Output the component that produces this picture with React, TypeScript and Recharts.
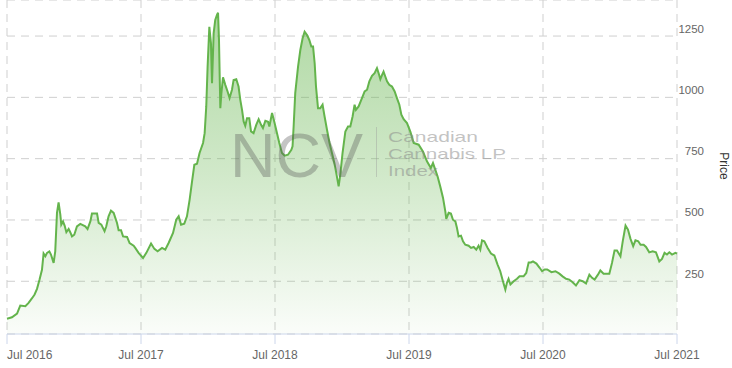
import { Area, AreaChart, CartesianGrid, XAxis, YAxis } from 'recharts';

// time in years since Jul 2016
const YEARS = [
  0, 0.037, 0.075, 0.099, 0.137, 0.161, 0.187, 0.206, 0.224, 0.243, 0.261, 0.273, 0.286, 0.299, 0.316,
  0.328, 0.348, 0.36, 0.373, 0.385, 0.398, 0.405, 0.418, 0.43, 0.443, 0.46, 0.472, 0.485, 0.502, 0.522,
  0.547, 0.584, 0.601, 0.622, 0.634, 0.672, 0.684, 0.704, 0.728, 0.741, 0.758, 0.776, 0.796, 0.821, 0.833,
  0.851, 0.866, 0.896, 0.915, 0.945, 0.957, 0.982, 1.015, 1.04, 1.075, 1.1, 1.124, 1.157, 1.181, 1.206,
  1.239, 1.263, 1.281, 1.299, 1.323, 1.343, 1.363, 1.381, 1.398, 1.418, 1.437, 1.463, 1.475, 1.487, 1.497,
  1.51, 1.522, 1.53, 1.542, 1.554, 1.567, 1.575, 1.582, 1.592, 1.6, 1.612, 1.629, 1.646, 1.661, 1.679,
  1.691, 1.711, 1.728, 1.741, 1.754, 1.766, 1.778, 1.791, 1.808, 1.821, 1.84, 1.86, 1.878, 1.896, 1.91,
  1.928, 1.948, 1.958, 1.978, 1.997, 2.015, 2.032, 2.052, 2.072, 2.097, 2.122, 2.131, 2.139, 2.151, 2.172,
  2.189, 2.206, 2.221, 2.239, 2.256, 2.271, 2.284, 2.296, 2.306, 2.321, 2.338, 2.355, 2.37, 2.388, 2.407,
  2.425, 2.443, 2.457, 2.475, 2.487, 2.504, 2.525, 2.545, 2.562, 2.579, 2.594, 2.604, 2.624, 2.649, 2.669,
  2.687, 2.704, 2.724, 2.743, 2.761, 2.773, 2.786, 2.799, 2.81, 2.823, 2.836, 2.853, 2.873, 2.893, 2.91,
  2.928, 2.943, 2.96, 2.985, 3.01, 3.035, 3.072, 3.104, 3.134, 3.163, 3.179, 3.196, 3.213, 3.233, 3.254,
  3.271, 3.278, 3.296, 3.313, 3.328, 3.346, 3.358, 3.37, 3.388, 3.403, 3.42, 3.445, 3.463, 3.483, 3.502,
  3.519, 3.532, 3.545, 3.562, 3.587, 3.612, 3.637, 3.661, 3.681, 3.701, 3.719, 3.731, 3.743, 3.757, 3.781,
  3.806, 3.825, 3.855, 3.875, 3.893, 3.91, 3.925, 3.951, 3.975, 3.993, 4.013, 4.031, 4.063, 4.093, 4.122,
  4.146, 4.172, 4.196, 4.221, 4.246, 4.272, 4.296, 4.321, 4.346, 4.366, 4.385, 4.41, 4.428, 4.452, 4.495,
  4.515, 4.534, 4.552, 4.578, 4.595, 4.616, 4.634, 4.653, 4.673, 4.69, 4.711, 4.728, 4.751, 4.769, 4.793,
  4.818, 4.843, 4.868, 4.888, 4.907, 4.925, 4.943, 4.963, 4.988, 5,
];

const PRICES = [
  97, 103, 118, 151, 148, 162, 181, 196, 219, 257, 297, 363, 352, 366, 372,
  359, 325, 372, 529, 572, 522, 481, 494, 477, 450, 463, 450, 433, 440, 474,
  484, 474, 463, 494, 526, 526, 488, 481, 454, 474, 515, 538, 529, 488, 458,
  458, 433, 431, 406, 395, 386, 366, 345, 366, 404, 382, 372, 386, 379, 406,
  447, 501, 515, 481, 485, 515, 583, 657, 725, 729, 773, 814, 854, 963, 1125,
  1288, 1221, 1058, 1261, 1316, 1336, 1345, 1234, 956, 1017, 1082, 1051, 1024, 997, 1031,
  1071, 1074, 1044, 990, 949, 902, 884, 915, 915, 861, 854, 888, 911, 888, 875,
  904, 900, 881, 936, 895, 854, 814, 773, 762, 766, 786, 800, 881, 1017, 1125,
  1193, 1241, 1268, 1254, 1234, 1207, 1207, 1139, 1044, 956, 956, 970, 922, 868, 814,
  773, 732, 692, 637, 684, 773, 861, 881, 881, 922, 970, 949, 963, 997, 1024,
  1031, 1065, 1088, 1099, 1119, 1099, 1074, 1092, 1105, 1085, 1065, 1051, 1044, 1024, 997,
  970, 929, 911, 895, 860, 814, 807, 779, 739, 712, 732, 705, 678, 637, 590,
  535, 504, 529, 526, 501, 494, 467, 433, 436, 413, 399, 395, 386, 390, 379,
  395, 379, 417, 413, 386, 363, 355, 318, 291, 250, 216, 244, 260, 237, 250,
  260, 270, 270, 284, 327, 327, 331, 322, 305, 291, 298, 298, 287, 291, 281,
  270, 260, 257, 246, 233, 254, 250, 241, 277, 264, 257, 277, 294, 281, 281,
  325, 376, 376, 352, 413, 477, 461, 423, 393, 417, 413, 399, 399, 390, 368,
  372, 368, 331, 341, 366, 359, 368, 359, 366, 363,
];

const X_TICKS = [0, 1, 2, 3, 4, 5];
const X_LABELS = ['Jul 2016', 'Jul 2017', 'Jul 2018', 'Jul 2019', 'Jul 2020', 'Jul 2021'];
const Y_TICKS = [250, 500, 750, 1000, 1250];

const data = YEARS.map((t, i) => ({ t, price: PRICES[i] }));

const LINE = '#64b44c';
const GRID = '#cfcfcf';
const AXIS_LINE = '#ccd6eb';
const FONT = '"Liberation Sans", Arial, sans-serif';

function XTick({ x, payload, index }: any) {
  return (
    <text
      x={x}
      y={359}
      textAnchor={index === 0 ? 'start' : 'middle'}
      fill="#666"
      fontSize={12}
      fontFamily={FONT}
    >
      {X_LABELS[X_TICKS.indexOf(payload.value)]}
    </text>
  );
}

function YTick({ y, payload }: any) {
  return (
    <text x={704} y={y - 3.5} textAnchor="end" fill="#666" fontSize={11.5} fontFamily={FONT}>
      {payload.value}
    </text>
  );
}

export default function App() {
  return (
    <div style={{ position: 'absolute', left: 0, top: 0, width: 732, height: 368, background: '#fff' }}>
      <AreaChart width={732} height={368} data={data} margin={{ top: 0, right: 0, left: 7, bottom: 0 }}>
        <defs>
          <linearGradient id="ncvFill" x1="0" y1="0" x2="0" y2="1">
            <stop offset="0%" stopColor={LINE} stopOpacity={0.85} />
            <stop offset="50%" stopColor={LINE} stopOpacity={0.5} />
            <stop offset="100%" stopColor={LINE} stopOpacity={0.05} />
          </linearGradient>
        </defs>
        <CartesianGrid stroke={GRID} strokeDasharray="8 6" />
        <XAxis
          type="number"
          dataKey="t"
          domain={[0, 5]}
          ticks={X_TICKS}
          interval={0}
          height={34}
          stroke={AXIS_LINE}
          tickSize={10}
          tick={<XTick />}
        />
        <YAxis
          orientation="right"
          width={55}
          domain={[35, 1397]}
          ticks={Y_TICKS}
          axisLine={false}
          tickLine={false}
          tick={<YTick />}
        />
        <Area
          type="linear"
          dataKey="price"
          stroke={LINE}
          strokeWidth={2}
          fill="url(#ncvFill)"
          isAnimationActive={false}
          dot={false}
          activeDot={false}
        />
      </AreaChart>
      <svg
        width={732}
        height={368}
        style={{ position: 'absolute', left: 0, top: 0, pointerEvents: 'none' }}
      >
        {/* watermark */}
        <text x={230} y={177} fontSize={63} fontFamily={FONT} fill="#555" fillOpacity={0.35}>
          NCV
        </text>
        <line x1={376.5} y1={127} x2={376.5} y2={177} stroke="#999" strokeOpacity={0.4} />
        <g fontSize={15} fontFamily={FONT} fill="#888" fillOpacity={0.5}>
          <text x={388} y={142} textLength={90} lengthAdjust="spacingAndGlyphs">Canadian</text>
          <text x={388} y={159} textLength={118} lengthAdjust="spacingAndGlyphs">Cannabis LP</text>
          <text x={388} y={176} textLength={50} lengthAdjust="spacingAndGlyphs">Index</text>
        </g>
        <text
          x={723}
          y={166}
          transform="rotate(90 723 166)"
          textAnchor="middle"
          dominantBaseline="middle"
          fontSize={12}
          fontFamily={FONT}
          fill="#333"
        >
          Price
        </text>
      </svg>
    </div>
  );
}
